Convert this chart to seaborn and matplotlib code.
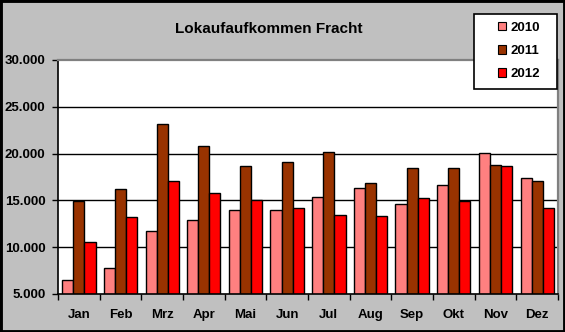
import matplotlib
matplotlib.use("Agg")
import matplotlib.pyplot as plt
from matplotlib.patches import Rectangle, Patch
from matplotlib.ticker import FuncFormatter, FixedLocator
import seaborn as sns
import pandas as pd

months = ["Jan", "Feb", "Mrz", "Apr", "Mai", "Jun",
          "Jul", "Aug", "Sep", "Okt", "Nov", "Dez"]
years = ["2010", "2011", "2012"]
values_2010 = [6460, 7750, 11700, 12870, 13940, 13940,
               15330, 16290, 14580, 16610, 20030, 17360]
values_2011 = [14970, 16180, 23130, 20780, 18640, 19070,
               20140, 16830, 18430, 18430, 18750, 17040]
values_2012 = [10520, 13190, 17040, 15760, 15010, 14150,
               13400, 13300, 15220, 14970, 18640, 14150]
colors = ["#FF8080", "#993300", "#FF0000"]
title = "Lokaufaufkommen Fracht"

df = pd.DataFrame({
    "Monat": months * 3,
    "Jahr": [y for y in years for _ in months],
    "Wert": values_2010 + values_2011 + values_2012,
})

plt.rcParams["font.family"] = ["Liberation Sans", "DejaVu Sans"]
plt.rcParams["font.weight"] = "bold"

W, H = 565, 332
fig = plt.figure(figsize=(W / 100, H / 100), dpi=100, facecolor="#C0C0C0")
ax = fig.add_axes([58 / W, 1 - 294 / H, 500 / W, 234 / H])
ax.set_facecolor("white")

# horizontal gridlines behind the bars
for v in [10000, 15000, 20000, 25000]:
    ax.axhline(v, color="black", lw=1.0, zorder=0)

sns.barplot(data=df, x="Monat", y="Wert", hue="Jahr", order=months,
            hue_order=years, palette=colors, width=0.8, edgecolor="black",
            linewidth=1.0, saturation=1, legend=False, ax=ax, zorder=2)

ax.set_ylim(5000, 30000)
ax.set_xlim(-0.5, 11.5)
ax.set_yticks([5000, 10000, 15000, 20000, 25000, 30000])
ax.yaxis.set_major_formatter(FuncFormatter(lambda v, p: f"{int(v):,}".replace(",", ".")))
ax.set_xlabel("")
ax.set_ylabel("")

# category boundary ticks below the x axis
ax.xaxis.set_minor_locator(FixedLocator([i - 0.5 for i in range(13)]))
ax.tick_params(axis="x", which="major", length=0, pad=11, labelsize=9.5)
ax.tick_params(axis="x", which="minor", length=4, width=1, direction="out", color="black")
ax.tick_params(axis="y", which="major", length=4, width=1, pad=5, labelsize=9.5)
for lab in ax.get_xticklabels() + ax.get_yticklabels():
    lab.set_fontweight("bold")

for side in ["left", "bottom"]:
    ax.spines[side].set_color("black")
    ax.spines[side].set_linewidth(1.2)
for side in ["top", "right"]:
    ax.spines[side].set_color("#808080")
    ax.spines[side].set_linewidth(1.6)

fig.text(269 / W, 1 - 29 / H, title, ha="center", va="center",
         fontsize=11, fontweight="bold")

# legend box
fig.patches.append(Rectangle((474 / W, 1 - 89 / H), 83 / W, 75 / H,
                             transform=fig.transFigure, facecolor="white",
                             edgecolor="black", lw=1.2, zorder=4))
handles = [Patch(facecolor=c, edgecolor="black", lw=0.8) for c in colors]
fig.legend(handles, years, loc="center", bbox_to_anchor=(519 / W, 1 - 51 / H),
           frameon=False, fontsize=9.5, handlelength=0.6, handleheight=0.6,
           handletextpad=0.3, labelspacing=0.85, borderpad=0.2,
           prop={"weight": "bold", "size": 9.5})

# outer chart border
fig.patches.append(Rectangle((0, 0), 1, 1, transform=fig.transFigure,
                             facecolor="none", edgecolor="black", lw=3.5, zorder=6))

fig.savefig("out.png", dpi=100, facecolor=fig.get_facecolor())
